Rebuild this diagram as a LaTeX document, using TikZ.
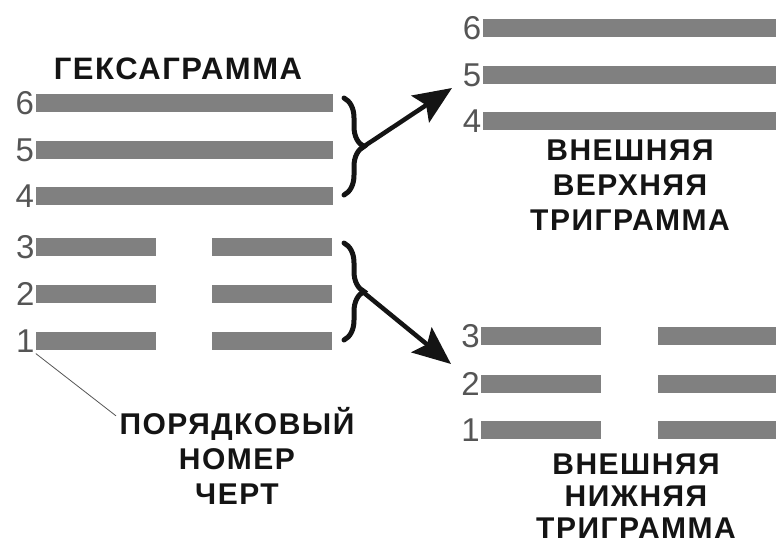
\documentclass[tikz,border=0pt]{standalone}
\usepackage{fontspec}
\setmainfont{Liberation Sans}
\newfontfamily\capfont{Liberation Sans}[LetterSpace=5]
\usepackage{tikz}
\usetikzlibrary{arrows.meta, positioning, decorations.pathreplacing, calc}
\definecolor{bargray}{RGB}{128,128,128}
\definecolor{numgray}{RGB}{85,85,85}
\definecolor{inkblack}{RGB}{20,20,20}
\tikzstyle{arrow} = [line width=4.5pt, inkblack, -{Stealth[length=38pt, width=32pt, inset=7pt]}]

\begin{document}
\begin{tikzpicture}[
	x=1pt, y=-1pt,
	yang/.style={fill=bargray, minimum width=297pt, minimum height=18pt, inner sep=0pt},
	yin/.style={fill=bargray, minimum width=120pt, minimum height=18pt, inner sep=0pt},
	num/.style={text=numgray, font=\fontsize{33}{33}\selectfont, inner sep=1pt, node distance=0pt},
	caption/.style={text=inkblack, font=\capfont\bfseries\fontsize{30}{35}\selectfont, align=center},
	bracket/.style={inkblack, line width=5pt, line cap=round, decorate, decoration={brace, amplitude=20pt}},
	leader/.style={numgray, line width=0.8pt}
]
\useasboundingbox (0,0) rectangle (776,550);

% hexagram
\node[caption, font=\capfont\bfseries\fontsize{31}{35}\selectfont] (title) at (178,69) {ГЕКСАГРАММА};
\node[yang] (h6) at (184,103) {};
\node[yang] (h5) at (184,150) {};
\node[yang] (h4) at (184,196) {};
\node[yin] (h3l) at (96,247) {};
\node[yin] (h3r) at (272,247) {};
\node[yin] (h2l) at (96,294) {};
\node[yin] (h2r) at (272,294) {};
\node[yin] (h1l) at (96,341) {};
\node[yin] (h1r) at (272,341) {};

\node[num, left=of h6] (n6) {6};
\node[num, left=of h5] (n5) {5};
\node[num, left=of h4] (n4) {4};
\node[num, left=of h3l] (n3) {3};
\node[num, left=of h2l] (n2) {2};
\node[num, left=of h1l] (n1) {1};

% upper trigram
\node[yang] (u6) at (631,28) {};
\node[yang] (u5) at (631,75) {};
\node[yang] (u4) at (631,121) {};
\node[num, left=of u6] (m6) {6};
\node[num, left=of u5] (m5) {5};
\node[num, left=of u4] (m4) {4};
\node[caption] (upper) at (630,185) {ВНЕШНЯЯ\\ВЕРХНЯЯ\\ТРИГРАММА};

% lower trigram
\node[yin] (l3l) at (541,336) {};
\node[yin] (l3r) at (718,336) {};
\node[yin] (l2l) at (541,384) {};
\node[yin] (l2r) at (718,384) {};
\node[yin] (l1l) at (541,430) {};
\node[yin] (l1r) at (718,430) {};
\node[num, left=of l3l] (k3) {3};
\node[num, left=of l2l] (k2) {2};
\node[num, left=of l1l] (k1) {1};
\node[caption, font=\capfont\bfseries\fontsize{30}{32}\selectfont] (lower) at (636,496) {ВНЕШНЯЯ\\НИЖНЯЯ\\ТРИГРАММА};

% line numbers
\node[caption] (order) at (237,456) {ПОРЯДКОВЫЙ\\НОМЕР\\ЧЕРТ};

% braces and arrows
\draw[bracket] (344,98) -- (344,195);
\draw[bracket] (344,243) -- (344,340);
\coordinate (upTip) at (363,147);
\coordinate (lowTip) at (363,292);
\coordinate (upEnd) at (452,88);
\coordinate (lowEnd) at (451,364);
\draw[arrow] (upTip) -- (upEnd);
\draw[arrow] (lowTip) -- (lowEnd);

\draw[leader] (n1.south east) -- ([yshift=-12pt]order.north west);

\end{tikzpicture}
\end{document}
